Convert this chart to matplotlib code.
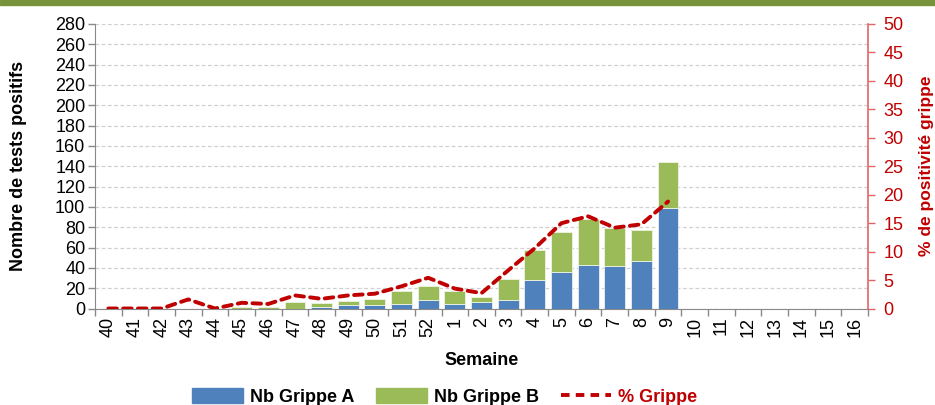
import matplotlib
matplotlib.use("Agg")
import matplotlib.pyplot as plt
from matplotlib.patches import Rectangle
from matplotlib.lines import Line2D
import numpy as np

plt.rcParams['font.family'] = ['Liberation Sans', 'DejaVu Sans']

weeks = ["40", "41", "42", "43", "44", "45", "46", "47", "48", "49", "50", "51", "52",
         "1", "2", "3", "4", "5", "6", "7", "8", "9", "10", "11", "12", "13", "14", "15", "16"]
grippe_a = [0, 0, 0, 0, 0, 0, 0, 0, 1.5, 3, 3, 4.5, 8.5, 4, 6, 8.5, 28.5, 35.5, 43, 42, 47, 99]
grippe_b = [0, 0, 0, 0, 0, 1.5, 1.5, 6, 3.5, 4, 6.5, 12.5, 13.5, 13, 5, 20.5, 29, 40, 45, 37, 30, 45]
pct_grippe = [0, 0, 0, 1.6, 0, 1.0, 0.8, 2.3, 1.7, 2.3, 2.6, 3.9, 5.4, 3.5, 2.7, 6.7, 10.6, 15.0, 16.2, 14.2, 14.8, 18.8]

left_ticks = list(range(0, 281, 20))
right_ticks = list(range(0, 51, 5))

BLUE = "#4F81BD"
GREEN = "#9BBB59"
RED = "#C00000"

fig = plt.figure(figsize=(9.35, 4.05), dpi=100)
W, H = 935, 405
ax = fig.add_axes([95 / W, 1 - 308.5 / H, (868 - 95) / W, (308.5 - 24) / H])

x = np.arange(len(weeks))
n = len(grippe_a)
ax.bar(x[:n], grippe_a, width=0.78, color=BLUE, edgecolor="#E8EEF6", linewidth=0.6, zorder=3)
ax.bar(x[:n], grippe_b, bottom=grippe_a, width=0.78, color=GREEN, edgecolor="#EEF4E6", linewidth=0.6, zorder=3)

ax.set_xlim(-0.5, len(weeks) - 0.5)
ax.set_ylim(0, 280)
ax.set_yticks(left_ticks)
ax.set_yticklabels([str(t) for t in left_ticks], fontsize=13)
ax.yaxis.grid(True, color="#D0D0D0", linestyle=(0, (3, 2)), linewidth=0.9, zorder=0)
ax.set_axisbelow(True)

ax.set_xticks(x)
ax.set_xticklabels(weeks, rotation=90, fontsize=13)
ax.tick_params(axis='x', length=0, pad=6)
ax.set_xticks(np.arange(-0.5, len(weeks), 1.0), minor=True)
ax.tick_params(axis='x', which='minor', length=5, color="#898989", width=1)
ax.tick_params(axis='y', length=5, color="#898989", width=1, pad=2)

for s in ["top", "right"]:
    ax.spines[s].set_visible(False)
ax.spines["left"].set_color("#898989")
ax.spines["bottom"].set_color("#898989")

ax.set_ylabel("Nombre de tests positifs", fontsize=13, fontweight="bold")
ax.yaxis.set_label_coords((27 - 95) / (868 - 95), 0.5)
ax.set_xlabel("Semaine", fontsize=13, fontweight="bold", labelpad=11)

ax2 = ax.twinx()
ax2.plot(x[:len(pct_grippe)], pct_grippe, color=RED, linewidth=2.8,
         linestyle=(0, (2.2, 1.6)), dash_capstyle="round", zorder=5)
ax2.set_ylim(0, 50)
ax2.set_yticks(right_ticks)
ax2.set_yticklabels([str(t) for t in right_ticks], fontsize=13, color=RED)
ax2.tick_params(axis='y', length=5, color="#E06666", width=1, pad=6)
for s in ["top", "left", "bottom"]:
    ax2.spines[s].set_visible(False)
ax2.spines["right"].set_color("#E06666")
ax2.spines["right"].set_linewidth(1.2)
ax2.set_ylabel("% de positivité grippe", fontsize=12.5, fontweight="bold", color=RED)
ax2.yaxis.set_label_coords((919 - 95) / (868 - 95), 0.5)

# Top green band
fig.patches.append(Rectangle((0, 1 - 5 / H), 1, 5 / H, transform=fig.transFigure,
                             color="#77933C", zorder=10))

handles = [Rectangle((0, 0), 1, 1, color=BLUE),
           Rectangle((0, 0), 1, 1, color=GREEN),
           Line2D([0], [0], color=RED, linewidth=2.8, linestyle=(0, (2.2, 1.6)))]
leg = fig.legend(handles, ["Nb Grippe A", "Nb Grippe B", "% Grippe"], loc="center",
                 bbox_to_anchor=(445 / W, 1 - 397 / H), ncol=3, frameon=False,
                 prop={"size": 13, "weight": "bold"}, handlelength=2.8, handleheight=0.9,
                 columnspacing=1.2, handletextpad=0.4)
leg.get_texts()[2].set_color(RED)

fig.savefig("out.png", dpi=100)
